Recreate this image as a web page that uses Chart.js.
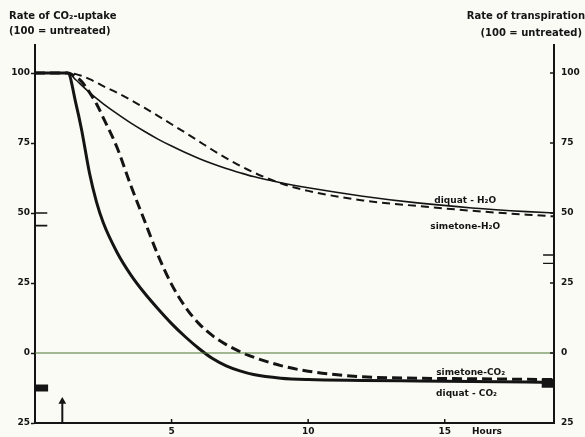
<!DOCTYPE html>
<html>
<head>
<meta charset="utf-8">
<script src="https://cdn.jsdelivr.net/npm/chart.js@4/dist/chart.umd.min.js"></script>
<style>
  html, body { margin: 0; padding: 0; background: #fbfbf5; }
  #c { display: block; }
</style>
</head>
<body>
<canvas id="c" width="585" height="437"></canvas>
<script>
// Time after start of experiment (hours); herbicide applied at 1 h
const hours = [0, 1.2, 1.5, 1.7, 2, 2.25, 2.5, 3, 3.5, 4, 4.5, 5, 5.5, 6, 6.5, 7, 7.5, 8, 9, 10, 12, 14, 16, 18, 19];

// Rates relative to untreated plants (100 = untreated)
const diquatCO2   = [100, 100, 89, 80, 64, 54, 46.5, 36, 28, 21.5, 15.8, 10.5, 5.8, 1.6, -2, -4.6, -6.4, -7.7, -9, -9.5, -9.8, -10, -10.2, -10.4, -10.5];
const simetoneCO2 = [100, 100, 98.5, 97, 93, 89, 84, 73.5, 60, 47.5, 35, 24.5, 16.5, 10.5, 6.2, 3, 0.5, -1.5, -4.5, -6.5, -8.5, -9, -9.2, -9.4, -9.5];
const diquatH2O   = [100, 100, 97.5, 95.7, 93, 90.9, 89, 85.5, 82.2, 79.2, 76.4, 73.9, 71.6, 69.5, 67.6, 65.9, 64.4, 63, 60.8, 59, 56, 53.6, 51.8, 50.5, 50];
const simetoneH2O = [100, 100, 99.6, 99, 97.8, 96.6, 95.3, 93, 90.4, 87.6, 84.7, 81.7, 78.7, 75.6, 72.5, 69.6, 66.9, 64.5, 60.6, 57.9, 54.5, 52.5, 50.8, 49.4, 48.8];

const yTicks = [-25, 0, 25, 50, 75, 100];
const xTicks = [5, 10, 15];
const treatmentHour = 1;

const ink = '#141414';
const labelFont = { family: 'DejaVu Sans', weight: 'bold', size: 9 };

const pts = (vals) => hours.map((h, i) => ({ x: h, y: vals[i] }));

const curve = (label, vals, width, dash) => ({
  label, data: pts(vals), borderColor: ink, borderWidth: width, borderDash: dash,
  pointRadius: 0, cubicInterpolationMode: 'monotone', fill: false
});

// short horizontal strokes: [fromHour, toHour, value]
const segs = (list) => {
  const out = [];
  list.forEach(([x0, x1, y], i) => {
    if (i) out.push({ x: (x0 + x1) / 2, y: null });
    out.push({ x: x0, y }, { x: x1, y });
  });
  return out;
};

const datasets = [
  { label: 'zero', data: [{ x: 0, y: 0 }, { x: 19, y: 0 }], borderColor: '#4a7633', borderWidth: 1.2, pointRadius: 0 },
  curve('diquat-CO2', diquatCO2, 3, []),
  curve('simetone-CO2', simetoneCO2, 3, [10, 5]),
  curve('diquat-H2O', diquatH2O, 1.6, []),
  curve('simetone-H2O', simetoneH2O, 2, [8, 5]),
  { label: 'leftMarks', data: segs([[0, 0.45, 50], [0, 0.45, 45.5]]), borderColor: ink, borderWidth: 1.6, pointRadius: 0, spanGaps: false },
  { label: 'rightMarks', data: segs([[18.6, 19, 35], [18.6, 19, 32]]), borderColor: ink, borderWidth: 1.4, pointRadius: 0, spanGaps: false },
  { label: 'leftBlock', data: segs([[0, 0.48, -12.5]]), borderColor: ink, borderWidth: 7, pointRadius: 0 },
  { label: 'rightBlock', data: segs([[18.55, 19, -10.8]]), borderColor: ink, borderWidth: 9, pointRadius: 0 },
  { label: 'treatment', data: [{ x: treatmentHour, y: -25 }, { x: treatmentHour, y: -17.3 }],
    borderColor: ink, borderWidth: 2, pointRadius: [0, 4.5], pointStyle: 'triangle',
    pointBackgroundColor: ink, pointBorderColor: ink, pointBorderWidth: 0 }
];

// Curve names, placed in data units
const curveLabels = [
  { text: 'diquat - H\u2082O', x: 15.75, y: 54.3 },
  { text: 'simetone-H\u2082O', x: 15.75, y: 45 },
  { text: 'simetone-CO\u2082', x: 15.95, y: -7.1 },
  { text: 'diquat - CO\u2082', x: 15.8, y: -14.6 }
];

const textPlugin = {
  id: 'texts',
  afterDraw(chart) {
    const { ctx, scales: { x, y, y2 } } = chart;
    ctx.save();
    ctx.fillStyle = ink;
    ctx.strokeStyle = ink;
    ctx.textBaseline = 'middle';

    // inward tick marks on the bottom and right axes
    ctx.lineWidth = 1.5;
    xTicks.forEach(v => {
      const px = x.getPixelForValue(v);
      ctx.beginPath(); ctx.moveTo(px, y.bottom); ctx.lineTo(px, y.bottom - 4); ctx.stroke();
    });
    yTicks.forEach(v => {
      const py = y2.getPixelForValue(v);
      ctx.beginPath(); ctx.moveTo(x.right, py); ctx.lineTo(x.right - 4, py); ctx.stroke();
    });

    ctx.font = 'bold 9px "DejaVu Sans"';
    ctx.textAlign = 'center';
    curveLabels.forEach(l => ctx.fillText(l.text, x.getPixelForValue(l.x), y.getPixelForValue(l.y)));

    ctx.textAlign = 'left';
    ctx.fillText('Hours', x.getPixelForValue(16.0), 432);

    ctx.font = 'bold 10px "DejaVu Sans"';
    ctx.textAlign = 'left';
    ctx.fillText('Rate of CO\u2082-uptake', 9, 16);
    ctx.fillText('(100 = untreated)', 9, 31);
    ctx.textAlign = 'right';
    ctx.fillText('Rate of transpiration', 585, 16);
    ctx.fillText('(100 = untreated)', 582, 33);
    ctx.restore();
  }
};

const bgPlugin = {
  id: 'bg',
  beforeDraw(chart) {
    const { ctx, width, height } = chart;
    ctx.save(); ctx.fillStyle = '#fbfbf5'; ctx.fillRect(0, 0, width, height); ctx.restore();
  }
};

const yScale = (position, width, drawTicks, padding) => ({
  type: 'linear', position, min: -25, max: 110,
  afterBuildTicks: s => { s.ticks = yTicks.map(v => ({ value: v })); },
  afterFit: s => { s.width = width; },
  ticks: { callback: v => String(Math.abs(v)), font: labelFont, color: ink, padding },
  grid: { drawOnChartArea: false, drawTicks, tickLength: 4, tickColor: ink, tickWidth: 1.5 },
  border: { display: true, color: ink, width: 2 }
});

new Chart(document.getElementById('c'), {
  type: 'line',
  data: { datasets },
  options: {
    responsive: false,
    animation: false,
    devicePixelRatio: 1,
    layout: { padding: { top: 45, left: 0, right: 0, bottom: 0 } },
    plugins: { legend: { display: false }, tooltip: { enabled: false } },
    scales: {
      x: {
        type: 'linear', position: 'bottom', min: 0, max: 19,
        afterBuildTicks: s => { s.ticks = xTicks.map(v => ({ value: v })); },
        afterFit: s => { s.height = 14; },
        ticks: { font: labelFont, color: ink, padding: 3, maxRotation: 0 },
        grid: { drawOnChartArea: false, drawTicks: false },
        border: { display: true, color: ink, width: 2 }
      },
      y: yScale('left', 35, true, 1),
      y2: yScale('right', 31, false, 7)
    }
  },
  plugins: [bgPlugin, textPlugin]
});
</script>
</body>
</html>
